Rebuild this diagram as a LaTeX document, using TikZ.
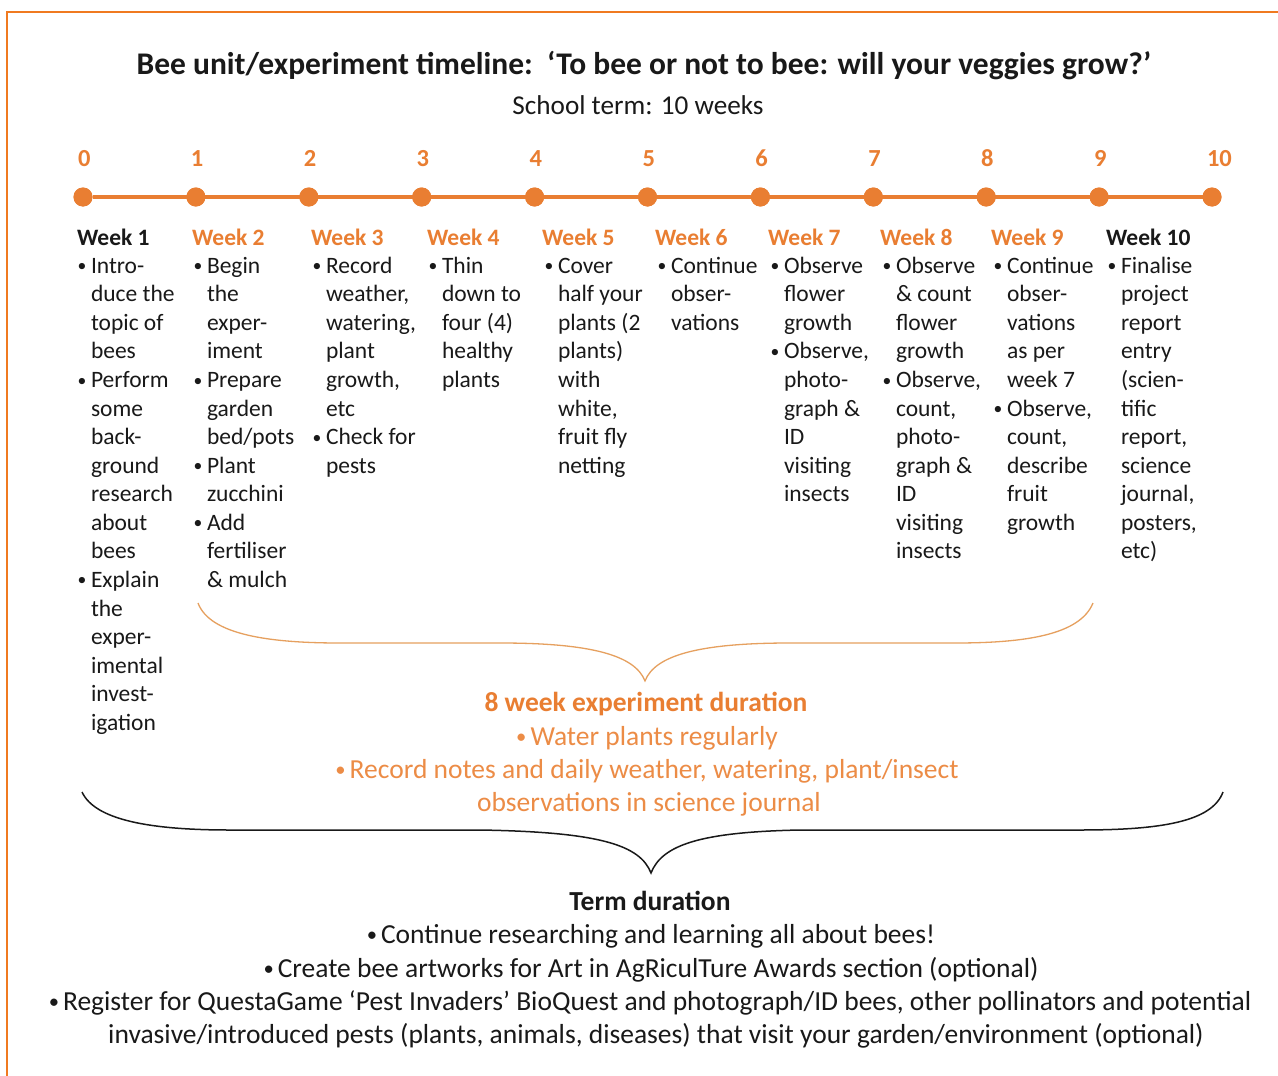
\documentclass[tikz,border=0pt]{standalone}
\usepackage{fontspec}
\setmainfont{Carlito}
\definecolor{tlorange}{RGB}{233,126,50}
\definecolor{softorange}{RGB}{236,140,70}
\definecolor{frameorange}{RGB}{240,122,32}
\definecolor{braceorange}{RGB}{230,160,95}
\definecolor{inkgray}{RGB}{25,25,25}
\newcommand\bl{\llap{\raisebox{1.5pt}{\scalebox{0.75}{\textbullet}}\hspace{4.5pt}}}
\newcommand\sbul{\raisebox{1.5pt}{\scalebox{0.75}{\textbullet}}\hspace{4pt}}
\newcommand\bodyfont{\fontsize{23.5}{28.6}\selectfont}
% one week column: name, heading x, text x, heading colour, heading, lines
\newcommand\wkcol[6]{%
  \node[head, text=#4] (h#1) at (#2,245) {#5};
  \foreach \t [count=\i from 0] in {#6}{
    \node[body] (c#1-\i) at (#3,273.3+\i*28.56) {\t};
  }%
}
\begin{document}
\begin{tikzpicture}[x=1pt,y=-1pt,
  every node/.style={inner sep=0pt, outer sep=0pt},
  head/.style={anchor=base west, font=\fontsize{23.5}{28}\selectfont\bfseries},
  body/.style={anchor=base west, font=\bodyfont, text=inkgray},
  tick/.style={anchor=base west, font=\fontsize{24.5}{28}\selectfont\bfseries, text=tlorange},
  dot/.style={circle, fill=tlorange, minimum size=19pt},
  midline/.style={anchor=base, font=\fontsize{27.5}{33}\selectfont},
]
\useasboundingbox (0,0) rectangle (1278,1076);
\fill[white] (0,0) rectangle (1278,1076);
% open frame
\draw[frameorange, line width=2pt] (7,1080) -- (7,12) -- (1282,12);

% title
\node[anchor=base, font=\fontsize{31.5}{36}\selectfont\bfseries, text=inkgray] (title) at (644,74)
  {Bee unit/experiment timeline:\ \ ‘To bee or not to bee: will your veggies grow?’};
\node[anchor=base, font=\fontsize{27.2}{32}\selectfont, text=inkgray] (sub) at (638,114) {School term: 10 weeks};

% timeline
\foreach \k in {0,...,10}{
  \node[dot] (d\k) at (83+112.9*\k,197) {};
  \node[tick] (n\k) at (78+112.9*\k,166) {\k};
}
\draw[tlorange, line width=4pt] (d0) -- (d10);
\foreach \k in {0,...,10}{ \node[dot] at (d\k) {}; }

% weekly columns
\wkcol{1}{77}{91}{inkgray}{Week 1}{\bl Intro-, duce the, topic of, bees, \bl Perform, some, back-, ground, research, about, bees, \bl Explain, the, exper-, imental, invest-, igation}
\wkcol{2}{192}{207}{tlorange}{Week 2}{\bl Begin, the, exper-, iment, \bl Prepare, garden, bed/pots, \bl Plant, zucchini, \bl Add, fertiliser, \& mulch}
\wkcol{3}{311}{326}{tlorange}{Week 3}{\bl Record, {weather,}, {watering,}, plant, {growth,}, etc, \bl Check for, pests}
\wkcol{4}{427}{442}{tlorange}{Week 4}{\bl Thin, down to, four (4), healthy, plants}
\wkcol{5}{542}{558}{tlorange}{Week 5}{\bl Cover, half your, plants (2, plants), with, {white,}, fruit fly, netting}
\wkcol{6}{655}{671}{tlorange}{Week 6}{\bl Continue, obser-, vations}
\wkcol{7}{768}{784}{tlorange}{Week 7}{\bl Observe, flower, growth, \bl {Observe,}, photo-, graph \&, ID, visiting, insects}
\wkcol{8}{880}{896}{tlorange}{Week 8}{\bl Observe, \& count, flower, growth, \bl {Observe,}, {count,}, photo-, graph \&, ID, visiting, insects}
\wkcol{9}{991}{1007}{tlorange}{Week 9}{\bl Continue, obser-, vations, as per, week 7, \bl {Observe,}, {count,}, describe, fruit, growth}
\wkcol{10}{1106}{1121}{inkgray}{Week 10}{\bl Finalise, project, report, entry, {(scien-}, tific, {report,}, science, {journal,}, {posters,}, etc)}

% experiment brace
\draw[braceorange, line width=1.3pt]
  (198,603) .. controls (210,635) and (270,643) .. (340,643)
  -- (500,643) .. controls (590,643) and (635,655) .. (645,681)
  .. controls (655,655) and (700,643) .. (790,643)
  -- (955,643) .. controls (1025,643) and (1080,635) .. (1093,603);
\coordinate (etip) at (645,681);

\node[midline, font=\fontsize{27.5}{33}\selectfont\bfseries, text=tlorange] (exp) at (646,711) {8 week experiment duration};
\node[midline, text=softorange] (exp1) at (647,745) {\sbul Water plants regularly};
\node[midline, text=softorange] (exp2) at (647,778) {\sbul Record notes and daily weather, watering, plant/insect};
\node[midline, text=softorange] (exp3) at (649,811) {observations in science journal};

% term brace
\draw[inkgray, line width=1.5pt]
  (82,792) .. controls (95,820) and (150,830) .. (230,830)
  -- (480,830) .. controls (600,832) and (640,845) .. (651,873)
  .. controls (662,845) and (700,832) .. (800,830)
  -- (1080,830) .. controls (1160,830) and (1212,822) .. (1223,792);
\coordinate (ttip) at (651,873);

\node[midline, font=\fontsize{27.5}{33}\selectfont\bfseries, text=inkgray] (term) at (650,910) {Term duration};
\node[midline, text=inkgray] (term1) at (651,943) {\sbul Continue researching and learning all about bees!};
\node[midline, text=inkgray] (term2) at (651,977) {\sbul Create bee artworks for Art in AgRiculTure Awards section (optional)};
\node[midline, text=inkgray] (term3) at (650,1010) {\sbul Register for QuestaGame ‘Pest Invaders’ BioQuest and photograph/ID bees, other pollinators and potential};
\node[midline, text=inkgray] (term4) at (656,1043) {invasive/introduced pests (plants, animals, diseases) that visit your garden/environment (optional)};
\end{tikzpicture}
\end{document}
